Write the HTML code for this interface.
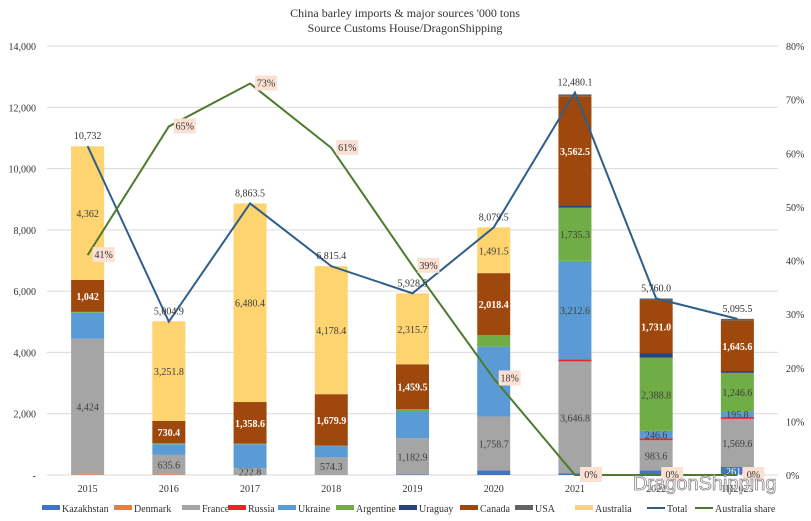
<!DOCTYPE html>
<html><head><meta charset="utf-8"><style>
body{margin:0;background:#fff;}
svg{display:block;font-family:"Liberation Serif","Noto Serif CJK SC",serif;}
</style></head><body>
<svg id="chart" width="811" height="521" viewBox="0 0 811 521" xmlns="http://www.w3.org/2000/svg"></svg>
<script>
const years=["2015","2016","2017","2018","2019","2020","2021","2022","1H2023"];
const seriesNames=["Kazakhstan","Denmark","France","Russia","Ukraine","Argentine","Uraguay","Canada","USA","Australia"];
const seriesColors=["#4472c4","#ed7d31","#a5a5a5","#e8262a","#5b9bd5","#70ad47","#264478","#9e480e","#636363","#fdd46f"];
const kazakhstan=[0,0,0,0,20,150,60,150,261];
const denmark=[20,20,0,0,0,0,0,0,0];
const france=[4424,635.6,222.8,574.3,1182.9,1758.7,3646.8,983.6,1569.6];
const russia=[0,0,0,0,0,0,70,60,60];
const ukraine=[850,350,780,370,870,2280,3212.6,246.6,195.8];
const argentine=[30,30,20,13,80,381,1735.3,2388.8,1246.6];
const uruguay=[0,0,0,0,0,0,73,150,60];
const canada=[1042,730.4,1358.6,1679.9,1459.5,2018.4,3562.5,1731.0,1645.6];
const usa=[0,0,0,0,0,0,60,50,57];
const australia=[4362,3251.8,6480.4,4178.4,2315.7,1491.5,0,0,0];
const totals=[10732,5004.9,8863.5,6815.4,5928.5,8079.5,12480.1,5760.0,5095.5];
const share=[41,65,73,61,39,18,0,0,0];
const leftTicks=[0,2000,4000,6000,8000,10000,12000,14000];
const rightTicks=[0,10,20,30,40,50,60,70,80];
const showLabel=[
 [0,0,0,0,0,0,0,0,1],[0,0,0,0,0,0,0,0,0],[1,1,1,1,1,1,1,1,1],[0,0,0,0,0,0,0,0,0],
 [0,0,0,0,0,0,1,1,1],[0,0,0,0,0,0,1,1,1],[0,0,0,0,0,0,0,0,0],[1,1,1,1,1,1,1,1,1],
 [0,0,0,0,0,0,0,0,0],[1,1,1,1,1,1,0,0,0]];
const series=[kazakhstan,denmark,france,russia,ukraine,argentine,uruguay,canada,usa,australia];

const NS="http://www.w3.org/2000/svg";
const svg=document.getElementById("chart");
const L=47,R=778,T=46,B=475;
const y=v=>B-(v/14000)*(B-T);
const yr=p=>B-(p/80)*(B-T);
const step=(R-L)/years.length;
const xc=i=>L+step*(i+0.5);
const bw=33;
function el(tag,attrs,text){const e=document.createElementNS(NS,tag);for(const k in attrs)e.setAttribute(k,attrs[k]);if(text!==undefined)e.textContent=text;svg.appendChild(e);return e;}
function fmt(v,i){return i===0?Math.round(v).toLocaleString("en-US"):v.toLocaleString("en-US",{minimumFractionDigits:1,maximumFractionDigits:1});}

let t=el("text",{x:405,y:17,"text-anchor":"middle","font-size":12,fill:"#333"},"China barley imports & major sources '000 tons");


t=el("text",{x:405,y:32,"text-anchor":"middle","font-size":12,fill:"#333"},"Source Customs House/DragonShipping");



leftTicks.forEach(v=>{
 const g=el("line",{x1:L,x2:R,y1:y(v),y2:y(v),stroke:"#d9d9d9","stroke-width":1});
 
 
 const lb=el("text",{x:36,y:y(v)+4,"text-anchor":"end","font-size":10,fill:"#333"},v===0?"-":v.toLocaleString("en-US"));
 
 
});
rightTicks.forEach(p=>{
 const lb=el("text",{x:786,y:yr(p)+4,"font-size":10,fill:"#333"},p+"%");
 
 
});

years.forEach((yv,i)=>{
 let acc=0;
 series.forEach((s,k)=>{
  const v=s[i];if(!v)return;
  const r=el("rect",{x:xc(i)-bw/2,y:y(acc+v),width:bw,height:y(acc)-y(acc+v),fill:seriesColors[k]});
  
  
  if(showLabel[k][i]){
   const col=(k===7)?"#fff":(k===0?"#fff":"#404040");
   const lb=el("text",{x:xc(i),y:(y(acc)+y(acc+v))/2+4,"text-anchor":"middle","font-size":10,fill:col,"font-weight":k===7?"bold":"normal"},fmt(v,i));
   
   
  }
  acc+=v;
 });
 const xl=el("text",{x:xc(i),y:492,"text-anchor":"middle","font-size":10,fill:"#333"},yv);
 
 
});

let tp=totals.map((v,i)=>xc(i)+","+y(v)).join(" ");
let tl=el("polyline",{points:tp,fill:"none",stroke:"#2e5f8a","stroke-width":2});


let sp=share.map((v,i)=>xc(i)+","+yr(v)).join(" ");
let sl=el("polyline",{points:sp,fill:"none",stroke:"#4e7a2e","stroke-width":2});



totals.forEach((v,i)=>{
 const lb=el("text",{x:xc(i),y:y(v)-7,"text-anchor":"middle","font-size":10,fill:"#333"},fmt(v,i));
 
 
});
share.forEach((v,i)=>{
 const bx=el("rect",{x:xc(i)+5,y:yr(v)-8,width:22,height:15,fill:"#fbe1d3"});
 
 
 const lb=el("text",{x:xc(i)+16,y:yr(v)+3,"text-anchor":"middle","font-size":10,fill:"#333"},v+"%");
 
 
});

const legendItems=seriesNames.concat(["Total","Australia share"]);
const legendX=[42,114,182,228,278,336,399,460,515,575,647,695];
legendItems.forEach((n,k)=>{
 const lx=legendX[k];
 let sw;
 if(k<10){sw=el("rect",{x:lx,y:505,width:18,height:5,fill:seriesColors[k]});}
 else{sw=el("line",{x1:lx,x2:lx+18,y1:508,y2:508,stroke:k===10?"#2e5f8a":"#4e7a2e","stroke-width":2});}
 
 
 const lb=el("text",{x:lx+20,y:512,"font-size":10,fill:"#333"},n);
 
 
});
const wm=el("text",{x:633,y:490,"font-size":20,fill:"#ffffff",stroke:"#888","stroke-width":0.8,"font-family":"Liberation Sans, sans-serif"},"DragonShipping");


</script>
</body></html>
